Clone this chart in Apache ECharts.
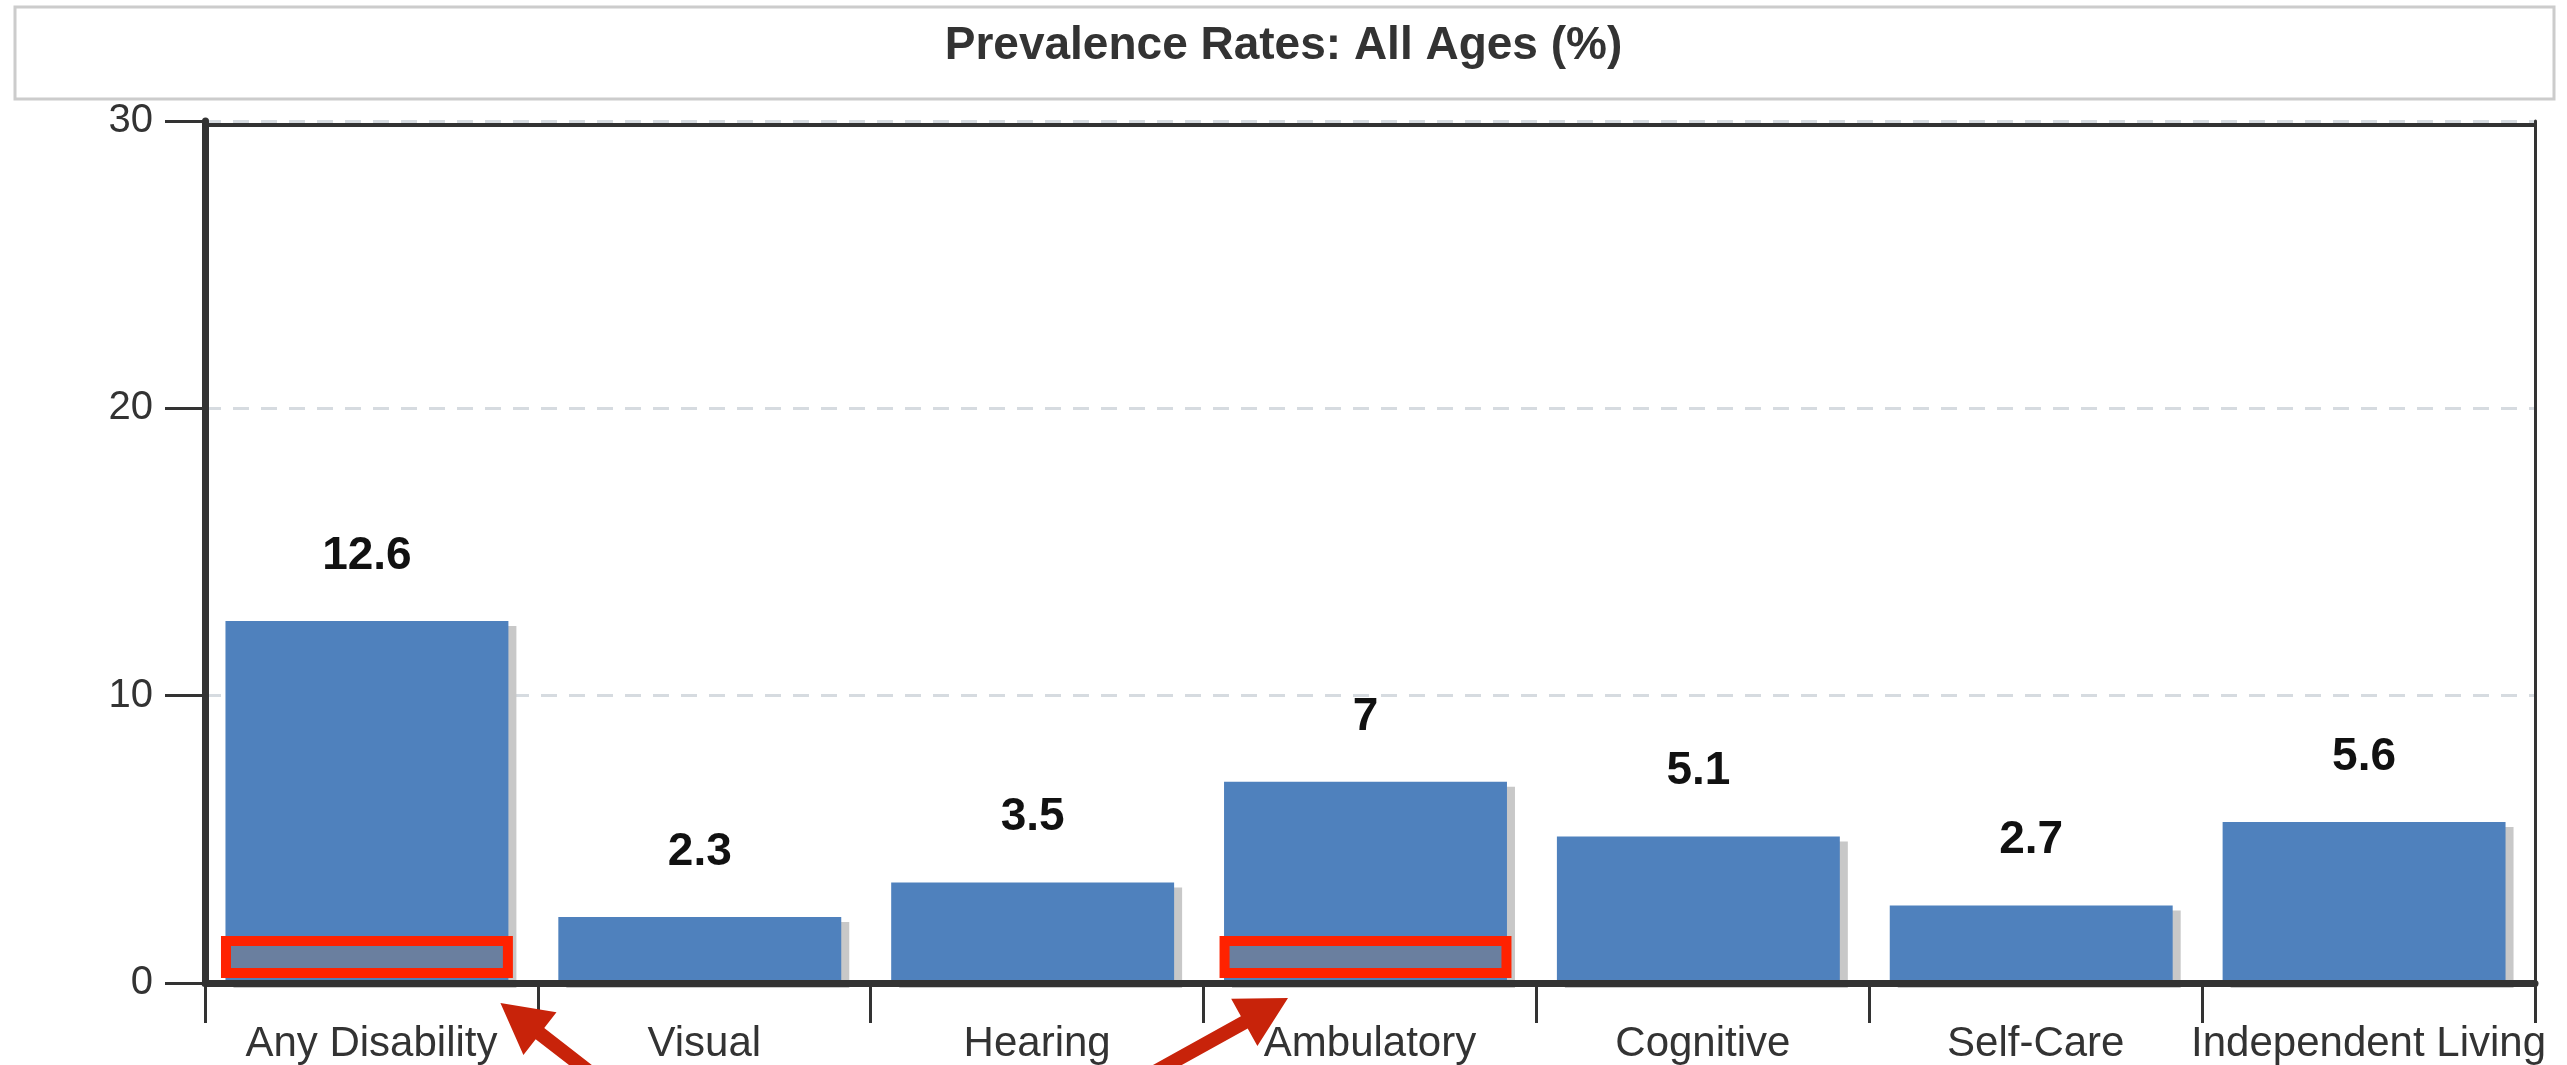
<!DOCTYPE html>
<html>
<head>
<meta charset="utf-8">
<script src="https://cdn.jsdelivr.net/npm/echarts@6/dist/echarts.min.js"></script>
<style>
html,body{margin:0;padding:0;background:#fff;}
#main{width:2567px;height:1065px;}
</style>
</head>
<body>
<div id="main"></div>
<script>
// ---- data ----
const titleText = 'Prevalence Rates: All Ages (%)';
const categories = ['Any Disability', 'Visual', 'Hearing', 'Ambulatory', 'Cognitive', 'Self-Care', 'Independent Living'];
const values = [12.6, 2.3, 3.5, 7, 5.1, 2.7, 5.6];
const yMin = 0, yMax = 30, yStep = 10;
// highlight boxes (annotation) drawn on Any Disability and Ambulatory
const highlightCats = [0, 3];
const highlightLow = [0.17, 0.17];
const highlightHigh = [1.64, 1.64];
// arrows: category index the arrow points at
const arrowTargets = [0, 3];

const FONT = 'Liberation Sans, Arial, sans-serif';
const BAR_W = 0.85, BOX_W = 0.877;
const chart = echarts.init(document.getElementById('main'), null, {renderer: 'canvas'});

const option = {
  animation: false,
  backgroundColor: '#ffffff',
  title: {
    text: titleText,
    left: 'center',
    top: 23,
    padding: 0,
    textStyle: {fontFamily: FONT, fontSize: 46, fontWeight: 'bold', color: '#333333', lineHeight: 46}
  },
  grid: {left: 205, right: 32, top: 121, bottom: 82},
  xAxis: [{
    type: 'category',
    data: categories,
    z: 5,
    axisLine: {lineStyle: {color: '#333333', width: 7}},
    axisTick: {show: true, length: 40, lineStyle: {color: '#333333', width: 3}},
    axisLabel: {interval: 0, margin: 40, fontSize: 42, color: '#333333', fontFamily: FONT}
  }, {
    type: 'category',
    data: categories,
    position: 'top',
    offset: -4,
    z: 5,
    axisLine: {onZero: false, lineStyle: {color: '#333333', width: 4}},
    axisTick: {show: false},
    axisLabel: {show: false},
    splitLine: {show: false}
  }],
  yAxis: [{
    type: 'value',
    min: yMin, max: yMax, interval: yStep,
    axisLine: {show: true, onZero: false, lineStyle: {color: '#333333', width: 7}},
    axisTick: {show: true, length: 40, lineStyle: {color: '#333333', width: 3}},
    axisLabel: {margin: 52, fontSize: 40, color: '#333333', fontFamily: FONT, padding: [0, 0, 12, 0]},
    splitLine: {show: true, lineStyle: {type: [16, 12], color: '#d6dbe0', width: 3}}
  }, {
    type: 'value',
    position: 'right',
    min: yMin, max: yMax, interval: yStep,
    axisLine: {show: true, onZero: false, lineStyle: {color: '#333333', width: 3}},
    axisTick: {show: false},
    axisLabel: {show: false},
    splitLine: {show: false}
  }],
  series: [
    {
      type: 'bar',
      z: 2,
      data: values,
      barWidth: (BAR_W * 100) + '%',
      barGap: '-100%',
      itemStyle: {color: '#4f81bd', shadowColor: '#c8c8c8', shadowBlur: 0, shadowOffsetX: 8, shadowOffsetY: 5},
      label: {show: true, position: 'top', distance: 42, fontFamily: FONT, fontSize: 46, fontWeight: 'bold', color: '#111111'}
    },
    {
      // empty layout column so the bars sit slightly left of the band centre, as in the original
      type: 'bar',
      data: [],
      barWidth: (BOX_W * 100) + '%',
      barGap: '-100%',
      silent: true
    },
    {
      type: 'custom',
      silent: true,
      z: 4,
      data: highlightCats.map((c, i) => [c, highlightLow[i], highlightHigh[i]]),
      renderItem: function (params, api) {
        const lo = api.coord([api.value(0), api.value(1)]);
        const hi = api.coord([api.value(0), api.value(2)]);
        const band = api.size([1, 0])[0];
        const w = band * BOX_W;
        const cx = lo[0] - band * (BOX_W - BAR_W) / 2;
        const lw = 10;
        return {
          type: 'rect',
          shape: {x: cx - w / 2 + lw / 2, y: hi[1] + lw / 2, width: w - lw, height: lo[1] - hi[1] - lw},
          style: {fill: '#6a7f9f', stroke: '#ff2200', lineWidth: lw}
        };
      }
    }
  ]
};
chart.setOption(option);

// title frame + arrows (annotations), positioned from the axis scale
function arrowPoly(tip, dir, shaftLen, shaftW, headLen, headW) {
  const l = Math.hypot(dir[0], dir[1]);
  const d = [dir[0] / l, dir[1] / l];
  const n = [-d[1], d[0]];
  const b = [tip[0] - d[0] * headLen, tip[1] - d[1] * headLen];
  const t = [b[0] - d[0] * shaftLen, b[1] - d[1] * shaftLen];
  const p = (o, k) => [o[0] + n[0] * k, o[1] + n[1] * k];
  return [tip, p(b, headW / 2), p(b, shaftW / 2), p(t, shaftW / 2), p(t, -shaftW / 2), p(b, -shaftW / 2), p(b, -headW / 2)];
}
const c0 = chart.convertToPixel({xAxisIndex: 0, yAxisIndex: 0}, [arrowTargets[0], 0]);
const c1 = chart.convertToPixel({xAxisIndex: 0, yAxisIndex: 0}, [arrowTargets[1], 0]);
const arrowColor = '#c8230a';
chart.setOption({
  graphic: [
    {type: 'rect', z: -1, shape: {x: 15, y: 7, width: 2539, height: 92}, style: {fill: '#ffffff', stroke: '#cccccc', lineWidth: 3}},
    {type: 'polygon', z: 100, shape: {points: arrowPoly([c0[0] + 129, c0[1] + 20], [-80, -62], 120, 14, 50, 54)}, style: {fill: arrowColor}},
    {type: 'polygon', z: 100, shape: {points: arrowPoly([c1[0] - 82, c1[1] + 15], [108, -60], 160, 14, 50, 54)}, style: {fill: arrowColor}}
  ]
});
</script>
</body>
</html>
